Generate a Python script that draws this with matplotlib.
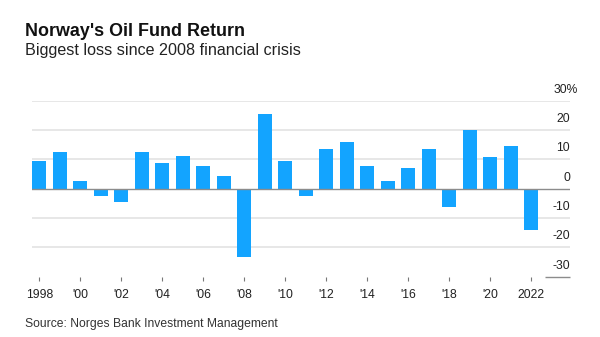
import matplotlib
matplotlib.use("Agg")
import matplotlib.pyplot as plt

# Annual return of the Government Pension Fund Global, percent
years = list(range(1998, 2023))
returns = [9.3, 12.4, 2.5, -2.5, -4.7, 12.6, 8.9, 11.1, 7.9, 4.3,
           -23.3, 25.6, 9.6, -2.5, 13.4, 15.9, 7.6, 2.7, 6.9, 13.7,
           -6.1, 19.9, 10.9, 14.5, -14.1]

x_ticks = list(range(1998, 2023, 2))
x_labels = ["1998", "'00", "'02", "'04", "'06", "'08", "'10", "'12",
            "'14", "'16", "'18", "'20", "2022"]
y_ticks = [30, 20, 10, 0, -10, -20, -30]
y_labels = ["30%", "20", "10", "0", "-10", "-20", "-30"]

title = "Norway's Oil Fund Return"
subtitle = "Biggest loss since 2008 financial crisis"
source = "Source: Norges Bank Investment Management"

plt.rcParams["font.family"] = ["Liberation Sans", "DejaVu Sans"]

W, H, DPI = 600, 337, 100
fig = plt.figure(figsize=(W / DPI, H / DPI), dpi=DPI)
fig.patch.set_facecolor("white")

# axes box in pixels: left 32, right 570, top 100.7, bottom 276.7
left, right, top, bottom = 32, 570, 100.7, 276.7
ax = fig.add_axes([left / W, (H - bottom) / H, (right - left) / W, (bottom - top) / H])
ax.set_facecolor("white")

ax.set_xlim(1997.644, 2023.893)
ax.set_ylim(-30, 30)

bar_color = "#13a4ff"
ax.bar(years, returns, width=0.68, color=bar_color, zorder=2)

# gridlines
grid_color = "#e3e3e3"
for v in y_ticks:
    if v == 0:
        ax.axhline(0, color="#8c8c8c", lw=1.0, zorder=3)
    elif v == -30:
        ax.hlines(-30, 2022.68, 2023.893, color="#8c8c8c", lw=1.0, zorder=3, clip_on=False)
    else:
        ax.axhline(v, color=grid_color, lw=1.2, zorder=1)

# y labels sit above their gridlines, on the right
label_size = 8.7
for v, lab in zip(y_ticks, y_labels):
    if lab.endswith("%"):
        # the number stays right-aligned with the others, the sign hangs past it
        ax.annotate(lab, xy=(1.0, v), xycoords=("axes fraction", "data"),
                    xytext=(-11.6, 5.8), textcoords="offset points",
                    ha="left", va="baseline", fontsize=label_size, color="#222222")
    else:
        ax.annotate(lab, xy=(1.0, v), xycoords=("axes fraction", "data"),
                    xytext=(0, 5.8), textcoords="offset points",
                    ha="right", va="baseline", fontsize=label_size, color="#222222")

ax.set_yticks([])
ax.set_xticks(x_ticks)
ax.set_xticklabels(x_labels, fontsize=label_size, color="#222222")
ax.tick_params(axis="x", length=3, width=0.8, color="#777777", pad=6)
for s in ax.spines.values():
    s.set_visible(False)

fig.text(25 / W, (H - 35.7) / H, title, fontsize=12.9, fontweight="bold",
         color="#111111", ha="left", va="baseline")
fig.text(25 / W, (H - 55) / H, subtitle, fontsize=11.6, color="#222222",
         ha="left", va="baseline")
fig.text(25 / W, (H - 326.5) / H, source, fontsize=8.7, color="#333333",
         ha="left", va="baseline")

fig.savefig("out.png", dpi=DPI, facecolor="white")
